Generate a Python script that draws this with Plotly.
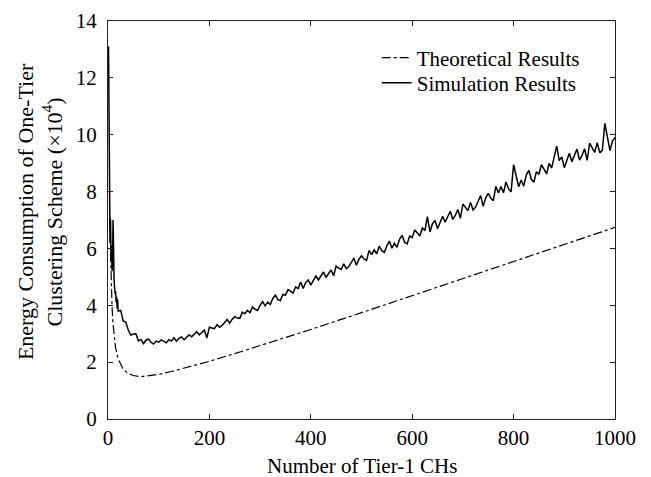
import plotly.graph_objects as go

# Theoretical curve
theo_k = [4, 5, 8, 10, 15, 20, 30, 40, 50, 60, 70, 80, 100, 125, 150, 200, 250, 300,
          400, 500, 600, 700, 800, 900, 1000]
theo_v = [7.1, 5.83, 3.94, 3.32, 2.50, 2.11, 1.75, 1.60, 1.53, 1.50, 1.50, 1.52, 1.57,
          1.67, 1.79, 2.03, 2.30, 2.58, 3.15, 3.74, 4.34, 4.94, 5.53, 6.13, 6.74]

# Simulation curve
sim_k_early = list(range(1, 21))
sim_v_early = [13.1, 10.2, 8.7, 6.2, 7.0, 5.6, 6.1, 5.2, 5.6, 7.0,
               5.0, 4.9, 4.6, 4.4, 4.5, 4.1, 4.3, 3.9, 4.2, 3.8]
sim_k_late = list(range(25, 1001, 5))
sim_v_late = [
    3.82, 3.45, 3.41, 3.13, 2.95, 2.99, 3.0, 2.75, 2.80, 2.65,
    2.78, 2.81, 2.69, 2.64, 2.74, 2.70, 2.78, 2.74, 2.68, 2.79,
    2.74, 2.86, 2.74, 2.84, 2.89, 2.79, 2.87, 2.96, 2.89, 2.98,
    3.07, 2.96, 3.03, 3.13, 2.85, 3.23, 3.2, 3.18, 3.32, 3.23,
    3.29, 3.41, 3.5, 3.37, 3.51, 3.6, 3.55, 3.54, 3.76, 3.70,
    3.82, 3.74, 3.94, 3.86, 3.82, 4.0, 4.13, 3.98, 4.11, 4.03,
    4.24, 4.36, 4.2, 4.17, 4.38, 4.36, 4.55, 4.5, 4.43, 4.65,
    4.59, 4.82, 4.59, 4.8, 4.89, 4.71, 4.87, 5.03, 4.89, 5.03,
    5.17, 4.98, 5.09, 5.24, 5.04, 5.38, 5.31, 5.26, 5.46, 5.29,
    5.36, 5.53, 5.66, 5.41, 5.62, 5.74, 5.63, 5.58, 5.93, 5.78,
    5.95, 5.81, 6.08, 5.92, 5.86, 6.09, 6.26, 6.01, 6.18, 6.04,
    6.32, 6.46, 6.22, 6.16, 6.44, 6.38, 6.65, 6.55, 6.44, 6.72,
    6.63, 7.12, 6.58, 6.87, 6.98, 6.69, 6.92, 7.13, 6.92, 7.11,
    7.31, 7.02, 7.16, 7.37, 7.06, 7.56, 7.44, 7.33, 7.62, 7.35,
    7.45, 7.69, 7.86, 7.48, 7.78, 7.94, 7.77, 7.68, 8.18, 7.95,
    8.18, 7.96, 8.34, 8.1, 7.99, 8.95, 8.55, 8.17, 8.41, 8.19,
    8.58, 8.75, 8.43, 8.33, 8.7, 8.61, 8.95, 8.8, 8.62, 8.99,
    8.83, 9.21, 9.6, 9.09, 9.22, 8.84, 9.09, 9.35, 9.05, 9.28,
    9.5, 9.11, 9.27, 9.51, 9.1, 9.7, 9.53, 9.38, 9.72, 9.36,
    9.46, 10.4, 9.92, 9.44, 9.78, 9.9,
]
sim_k = sim_k_early + sim_k_late
sim_v = sim_v_early + sim_v_late

x_ticks = [0, 200, 400, 600, 800, 1000]
y_ticks = [0, 2, 4, 6, 8, 10, 12, 14]

FONT = "Times New Roman, Liberation Serif, Tinos, DejaVu Serif, serif"
FS = 21

fig = go.Figure()
fig.add_trace(go.Scatter(x=theo_k, y=theo_v, mode="lines", name="Theoretical Results",
                         line=dict(color="black", width=1.2, dash="dashdot"),
                         legend="legend"))
fig.add_trace(go.Scatter(x=sim_k, y=sim_v, mode="lines", name="Simulation Results",
                         line=dict(color="black", width=1.5),
                         legend="legend2"))

axis_common = dict(showline=True, linecolor="#222", linewidth=1, mirror="allticks",
                   ticks="inside", ticklen=5, tickcolor="#222", showgrid=False,
                   zeroline=False, automargin=False,
                   tickfont=dict(family=FONT, size=FS, color="black"))

fig.update_xaxes(range=[0, 1000], tickvals=x_ticks, ticklabelstandoff=0, **axis_common)
fig.update_yaxes(range=[0, 14], tickvals=y_ticks, ticklabelstandoff=6, **axis_common)

fig.add_annotation(text="Energy Consumption of One-Tier<br>Clustering Scheme (×10<sup>4</sup>)",
                   textangle=-90, xref="paper", yref="paper", x=-0.134, y=0.52,
                   xanchor="center", yanchor="middle", showarrow=False,
                   font=dict(family=FONT, size=22, color="black"))
fig.add_annotation(text="Number of Tier-1 CHs", xref="paper", yref="paper",
                   x=0.5, y=-0.118, xanchor="center", yanchor="middle", showarrow=False,
                   font=dict(family=FONT, size=FS, color="black"))

leg_common = dict(xanchor="left", yanchor="middle", bgcolor="rgba(0,0,0,0)",
                  font=dict(family=FONT, size=FS, color="black"), itemwidth=30)

fig.update_layout(
    width=643, height=469,
    margin=dict(l=100, r=36, t=13, b=58),
    paper_bgcolor="white", plot_bgcolor="white",
    font=dict(family=FONT, size=FS, color="black"),
    showlegend=True,
    legend=dict(x=0.53, y=0.907, **leg_common),
    legend2=dict(x=0.53, y=0.844, **leg_common),
)

fig.write_html("out.html")
